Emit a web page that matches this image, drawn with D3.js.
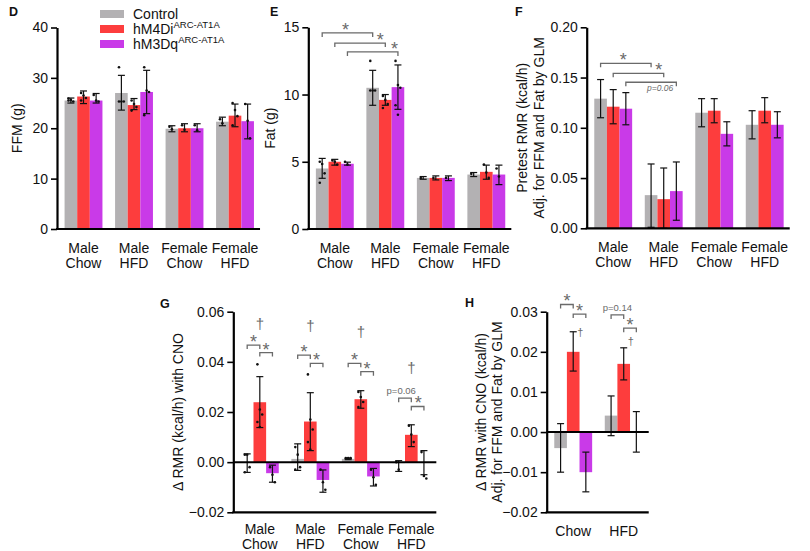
<!DOCTYPE html>
<html><head><meta charset="utf-8">
<script src="https://cdn.jsdelivr.net/npm/d3@7"></script>
<style>
body{margin:0;background:#fff}
svg{display:block}
text{font-family:"Liberation Sans",Arial,Helvetica,sans-serif}
</style>
</head><body>
<svg id="c" width="810" height="551"></svg>
<script>
// ---------- shared ----------
const seriesNames = ["Control", "hM4Di", "hM3Dq"];
const seriesSup = ["", "ARC-AT1A", "ARC-AT1A"];
const colors = ["#b3b1b3", "#fd3d3d", "#c93ae8"];
const groups4 = [["Male","Chow"],["Male","HFD"],["Female","Chow"],["Female","HFD"]];
const groups2 = [["Chow"],["HFD"]];

// ---------- D: FFM (g) ----------
const ffmTicks = [0, 10, 20, 30, 40];
const ffmMean = [[25.5,26.3,25.5],[27.0,24.6,27.2],[19.9,20.0,20.0],[21.3,22.5,21.4]];
const ffmLo   = [[25.0,24.9,25.0],[23.6,23.7,22.9],[19.3,19.3,19.3],[20.5,20.3,17.9]];
const ffmHi   = [[26.0,27.4,26.9],[30.5,25.9,31.5],[20.5,20.9,20.9],[22.2,24.8,24.8]];
const ffmDots = [
  [[25.9,25.6,25.3,25.5],[27.0,26.5,26.0,25.5],[26.6,25.5,25.3]],
  [[32.1,25.3,25.3,25.3],[25.5,24.8,24.2,23.5],[32.1,27.5,27.2,22.6]],
  [[20.3,19.8],[20.6,19.7],[20.6,19.6]],
  [[21.8,21.0],[25.0,23.6,22.4,20.6],[24.8,21.5,18.0]]
];

// ---------- E: Fat (g) ----------
const fatTicks = [0, 5, 10, 15];
const fatMean = [[4.5,5.0,4.85],[10.5,9.6,10.55],[3.8,3.8,3.8],[4.05,4.25,4.05]];
const fatLo   = [[3.77,4.75,4.75],[9.2,9.2,8.9],[3.7,3.65,3.6],[3.9,3.7,3.3]];
const fatHi   = [[5.25,5.18,4.97],[11.8,10.0,12.2],[3.9,3.95,3.95],[4.2,4.75,4.75]];
const fatDots = [
  [[5.0,4.83,4.14,3.44],[5.1,5.0,4.8],[5.0,4.8]],
  [[12.5,10.3,10.3,10.3],[9.9,9.6,9.3,9.0],[12.5,10.7,10.5,9.2,8.5]],
  [[3.8],[3.8],[3.8]],
  [[4.1],[4.8,4.2,3.8],[4.5,3.9]]
];
const fatBrackets = [
  {a:[0,0], b:[1,0], y:14.58, label:"*", at:0.46},
  {a:[0,1], b:[1,1], y:13.83, label:"*", at:0.9},
  {a:[0,2], b:[1,2], y:13.17, label:"*", at:0.93}
];

// ---------- F: Pretest RMR ----------
const rmrTicks = [0, 0.05, 0.10, 0.15, 0.20];
const rmrMean = [[0.129,0.121,0.119],[0.033,0.029,0.037],[0.115,0.117,0.094],[0.103,0.117,0.103]];
const rmrLo   = [[0.110,0.104,0.103],[0.001,0.000,0.008],[0.101,0.105,0.082],[0.089,0.105,0.090]];
const rmrHi   = [[0.148,0.138,0.135],[0.064,0.060,0.066],[0.129,0.129,0.106],[0.117,0.130,0.116]];
const rmrBrackets = [
  {a:[0,0], b:[1,0], y:0.1642, label:"*", at:0.45},
  {a:[0,1], b:[1,1], y:0.1542, label:"*", at:0.9},
  {a:[0,2], b:[1,2], y:0.1453, label:"p=0.06", at:0.68, below:true, italic:true}
];

// ---------- G: delta RMR with CNO ----------
const dTicks = [-0.02, 0.00, 0.02, 0.04, 0.06];
const dMean = [[-0.0003,0.0239,-0.0044],[0.0013,0.0162,-0.0071],[0.0013,0.0251,-0.0057],[-0.0004,0.0109,0.0]];
const dLo   = [[-0.0041,0.0138,-0.0080],[-0.0033,0.0046,-0.0120],[0.0010,0.0215,-0.0095],[-0.0037,0.0062,-0.0050]];
const dHi   = [[0.0033,0.0341,-0.0012],[0.0073,0.0277,-0.0031],[0.0016,0.0285,-0.0025],[0.0006,0.0149,0.0046]];
const dDots = [
  [[0.003,0.003,-0.002,-0.004],[0.039,0.021,0.019,0.016,0.014],[-0.002,-0.005,-0.008]],
  [[0.006,0.003,-0.002,-0.003],[0.035,0.017,0.013,0.008,0.005],[-0.003,-0.008,-0.011]],
  [[0.0016,0.0016,0.0016],[0.028,0.026,0.024,0.022],[-0.003,-0.006,-0.009]],
  [[0.0,-0.003],[0.0145,0.011,0.008],[0.004,-0.0055,-0.0065]]
];
const dBrackets = [
  {a:[0,0], b:[0,1], y:0.0467, label:"*", at:0.5},
  {a:[0,1], b:[0,2], y:0.0437, label:"*", at:0.5},
  {a:[1,0], b:[1,1], y:0.0427, label:"*", at:0.5},
  {a:[1,1], b:[1,2], y:0.0394, label:"*", at:0.5},
  {a:[2,0], b:[2,1], y:0.0394, label:"*", at:0.5},
  {a:[2,1], b:[2,2], y:0.0361, label:"*", at:0.5},
  {a:[3,0], b:[3,1], y:0.0255, label:"p=0.06", at:0.2},
  {a:[3,1], b:[3,2], y:0.0222, label:"*", at:0.55}
];
const dDaggers = [{g:0, s:1, y:0.0547},{g:1, s:1, y:0.054},{g:2, s:1, y:0.0517},{g:3, s:1, y:0.0374}];

// ---------- H: delta RMR adjusted ----------
const hTicks = [-0.02, -0.01, 0.00, 0.01, 0.02, 0.03];
const hMean = [[-0.004,0.020,-0.010],[0.0041,0.017,0.0]];
const hLo   = [[-0.010,0.0152,-0.0149],[-0.0009,0.013,-0.005]];
const hHi   = [[0.0021,0.025,-0.005],[0.009,0.021,0.0051]];
const hBrackets = [
  {a:[0,0], b:[0,1], y:0.0318, label:"*", at:0.5},
  {a:[0,1], b:[0,2], y:0.0294, label:"*", at:0.5},
  {a:[1,0], b:[1,1], y:0.0292, label:"p=0.14", at:0.5},
  {a:[1,1], b:[1,2], y:0.0259, label:"*", at:0.5}
];
const hDaggers = [{g:0, s:1, y:0.0247},{g:1, s:1, y:0.0226}];

// ---------- drawing ----------
const svg = d3.select("#c");
const annCol = "#6a6a6a";

function panel(p){
  const n = p.groups.length, step = 50.5;
  const y = d3.scaleLinear().domain(p.domain).range([p.yBottom, p.yTop]);
  const x = d3.scaleBand().domain(d3.range(n))
    .range([p.x0, p.x0 + (n + 0.05) * step]).paddingInner(0.25).paddingOuter(0.15);
  const xs = d3.scaleBand().domain(d3.range(3)).range([0, x.bandwidth()]);
  const cx = (gi, si) => x(gi) + xs(si) + xs.bandwidth() / 2;
  const g = svg.append("g");

  const flat = [];
  p.mean.forEach((row, gi) => row.forEach((v, si) =>
    flat.push({gi, si, v, lo: p.lo[gi][si], hi: p.hi[gi][si]})));

  // bars
  g.selectAll("rect.bar").data(flat).join("rect").attr("class","bar")
    .attr("x", d => x(d.gi) + xs(d.si)).attr("width", xs.bandwidth())
    .attr("y", d => y(Math.max(0, d.v)))
    .attr("height", d => Math.abs(y(d.v) - y(0)))
    .attr("fill", d => colors[d.si]);

  // dots
  if (p.dots) {
    const dots = [];
    p.dots.forEach((row, gi) => row.forEach((arr, si) => arr.forEach((v, k) =>
      dots.push({gi, si, v, k}))));
    g.selectAll("circle.dot").data(dots).join("circle").attr("class","dot")
      .attr("cx", d => cx(d.gi, d.si) + ((d.k % 3) - 1) * 2.4)
      .attr("cy", d => y(d.v)).attr("r", 1.3).attr("fill", "#111");
  }

  // error bars
  const cap = 3.5;
  const eb = g.selectAll("g.eb").data(flat).join("g").attr("class","eb")
    .attr("stroke", "#111").attr("stroke-width", 1.2);
  eb.append("line").attr("x1", d => cx(d.gi,d.si)).attr("x2", d => cx(d.gi,d.si))
    .attr("y1", d => y(d.lo)).attr("y2", d => y(d.hi));
  eb.append("line").attr("x1", d => cx(d.gi,d.si)-cap).attr("x2", d => cx(d.gi,d.si)+cap)
    .attr("y1", d => y(d.hi)).attr("y2", d => y(d.hi));
  eb.append("line").attr("x1", d => cx(d.gi,d.si)-cap).attr("x2", d => cx(d.gi,d.si)+cap)
    .attr("y1", d => y(d.lo)).attr("y2", d => y(d.lo));

  // axes
  const yAxis = g.append("g").attr("transform", `translate(${p.x0},0)`)
    .call(d3.axisLeft(y).tickValues(p.ticks).tickFormat(p.fmt).tickSize(6).tickSizeOuter(0).tickPadding(3));
  yAxis.select(".domain").attr("stroke","#000").attr("stroke-width",2.2);
  yAxis.selectAll(".tick line").attr("stroke","#000").attr("stroke-width",1.6);
  yAxis.selectAll(".tick text").attr("font-size",14).attr("fill","#111")
    .attr("font-family",'"Liberation Sans",Arial,sans-serif');

  const xEnd = x.range()[1] - 1.5;
  const baseY = y(p.domain[0]);
  g.append("line").attr("x1", p.x0 - 1).attr("x2", xEnd).attr("y1", baseY).attr("y2", baseY)
    .attr("stroke","#000").attr("stroke-width",2.2);
  if (p.domain[0] < 0) {
    g.append("line").attr("x1", p.x0).attr("x2", xEnd).attr("y1", y(0)).attr("y2", y(0))
      .attr("stroke","#000").attr("stroke-width",2);
  }

  // category labels (kept inside the 551px frame)
  p.groups.forEach((lines, gi) => {
    const nl = lines.length;
    const lastY = Math.min(baseY + 24 + (nl - 1) * 15, 548.5);
    const t = g.append("text").attr("text-anchor","middle").attr("font-size",14).attr("fill","#111");
    lines.forEach((ln, li) => t.append("tspan")
      .attr("x", x(gi) + x.bandwidth()/2).attr("y", lastY - (nl - 1 - li) * 15).text(ln));
  });

  // y title
  p.title.forEach((ln, li) => {
    g.append("text").attr("transform", `translate(${p.titleX[li]},${(p.yTop + p.yBottom)/2}) rotate(-90)`)
      .attr("text-anchor","middle").attr("dy","0.35em").attr("font-size",14).attr("fill","#111").text(ln);
  });

  // panel letter
  g.append("text").attr("x", p.letterPos[0]).attr("y", p.letterPos[1])
    .attr("font-size",12.5).attr("font-weight","bold").attr("fill","#111").text(p.letter);

  // brackets
  (p.brackets || []).forEach(b => {
    const xa = cx(b.a[0], b.a[1]), xb = cx(b.b[0], b.b[1]), yy = y(b.y);
    g.append("path").attr("d", `M${xa},${yy+4}V${yy}H${xb}V${yy+4}`)
      .attr("fill","none").attr("stroke",annCol).attr("stroke-width",1.3);
    const lx = xa + (xb - xa) * b.at;
    if (b.label === "*") {
      g.append("text").attr("x", lx).attr("y", yy + 3).attr("text-anchor","middle")
        .attr("font-size",18).attr("fill",annCol).text("*");
    } else {
      g.append("text").attr("x", lx).attr("y", b.below ? yy + 9 : yy - 4)
        .attr("text-anchor","middle").attr("font-size", b.italic ? 8.5 : 9.5)
        .attr("font-style", b.italic ? "italic" : "normal")
        .attr("font-family",'"Liberation Serif","Times New Roman",serif')
        .attr("fill",annCol).text(b.label);
    }
  });

  // daggers
  (p.daggers || []).forEach(d => {
    g.append("text").attr("x", cx(d.g, d.s) + (p.daggerDx || 0)).attr("y", y(d.y) + p.daggerSize*0.3)
      .attr("text-anchor","middle").attr("font-size", p.daggerSize)
      .attr("font-family",'"DejaVu Sans",sans-serif')
      .attr("fill",annCol).attr("stroke","none").text("\u2020");
  });
}

const fmt2 = v => d3.format(".2f")(v);

panel({letter:"D", letterPos:[9,16], groups:groups4, domain:[0,40], ticks:ffmTicks, fmt:d3.format("d"),
  x0:57, yTop:27.5, yBottom:229, mean:ffmMean, lo:ffmLo, hi:ffmHi, dots:ffmDots,
  title:["FFM (g)"], titleX:[17]});

panel({letter:"E", letterPos:[270,16], groups:groups4, domain:[0,15], ticks:fatTicks, fmt:d3.format("d"),
  x0:308.3, yTop:27.3, yBottom:229, mean:fatMean, lo:fatLo, hi:fatHi, dots:fatDots,
  title:["Fat (g)"], titleX:[270], brackets:fatBrackets});

panel({letter:"F", letterPos:[515,16], groups:groups4, domain:[0,0.2], ticks:rmrTicks, fmt:fmt2,
  x0:586.7, yTop:27.3, yBottom:228.3, mean:rmrMean, lo:rmrLo, hi:rmrHi,
  title:["Pretest RMR (kcal/h)","Adj. for FFM and Fat by GLM"], titleX:[522.5,539.5], brackets:rmrBrackets});

panel({letter:"G", letterPos:[160,308], groups:groups4, domain:[-0.02,0.06], ticks:dTicks, fmt:fmt2,
  x0:233.3, yTop:311.7, yBottom:512.3, mean:dMean, lo:dLo, hi:dHi, dots:dDots,
  title:["\u0394 RMR (kcal/h) with CNO"], titleX:[178.3], brackets:dBrackets,
  daggers:dDaggers, daggerSize:15, daggerDx:0});

panel({letter:"H", letterPos:[465,307], groups:groups2, domain:[-0.02,0.03], ticks:hTicks, fmt:fmt2,
  x0:546.7, yTop:311.7, yBottom:512.3, mean:hMean, lo:hLo, hi:hHi,
  title:["\u0394 RMR with CNO (kcal/h)","Adj. for FFM and Fat by GLM"], titleX:[481.5,497], brackets:hBrackets,
  daggers:hDaggers, daggerSize:11, daggerDx:7});

// legend
const leg = svg.append("g");
seriesNames.forEach((nm, i) => {
  const cy = 14 + i * 15;
  leg.append("rect").attr("x",100).attr("y",cy-4).attr("width",24).attr("height",8).attr("fill",colors[i]);
  const t = leg.append("text").attr("x",133).attr("y",cy+5).attr("font-size",14).attr("fill","#111");
  t.append("tspan").text(nm);
  if (seriesSup[i]) t.append("tspan").attr("font-size",9.5).attr("dy",-6).text(seriesSup[i]);
});
</script>
</body></html>
